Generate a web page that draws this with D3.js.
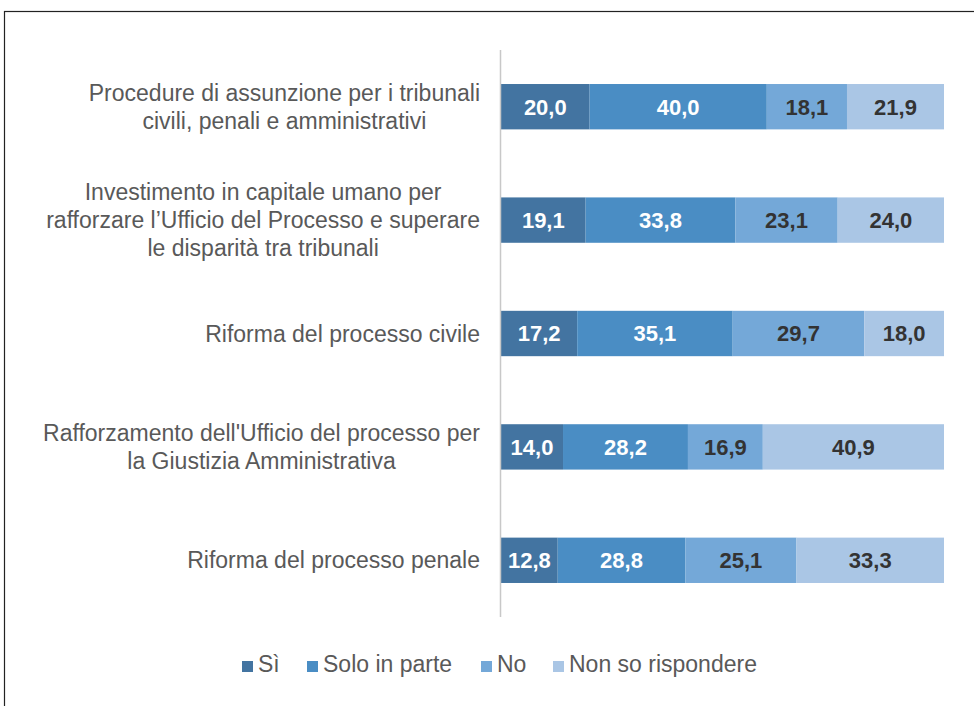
<!DOCTYPE html>
<html><head><meta charset="utf-8">
<script src="https://cdn.jsdelivr.net/npm/d3@7"></script>
<style>body{margin:0;background:#fff}svg{display:block}</style>
</head><body>
<svg id="c" width="974" height="706"></svg>
<script>
const categories = [
  ["Procedure di assunzione per i tribunali", "civili, penali e amministrativi"],
  ["Investimento in capitale umano per", "rafforzare l’Ufficio del Processo e superare", "le disparità tra tribunali"],
  ["Riforma del processo civile"],
  ["Rafforzamento dell'Ufficio del processo per", "la Giustizia Amministrativa"],
  ["Riforma del processo penale"]
];
const seriesNames = ["Sì", "Solo in parte", "No", "Non so rispondere"];
const si = [20.0, 19.1, 17.2, 14.0, 12.8];
const soloInParte = [40.0, 33.8, 35.1, 28.2, 28.8];
const no = [18.1, 23.1, 29.7, 16.9, 25.1];
const nonSo = [21.9, 24.0, 18.0, 40.9, 33.3];
const colors = ["#4374a1", "#4a8dc4", "#74a8d8", "#aac6e5"];
const labelColors = ["#fff", "#fff", "#333", "#333"];
const FONT = "'Liberation Sans', Arial, sans-serif";

const series = [si, soloInParte, no, nonSo];
const svg = d3.select("#c");
svg.append("rect").attr("x", 4.5).attr("y", 11.5).attr("width", 1000).attr("height", 1000)
  .attr("fill", "none").attr("stroke", "#222").attr("stroke-width", 1.2);

const x = d3.scaleLinear().domain([0, 100]).range([501, 944]);
const y = d3.scaleBand().domain(d3.range(categories.length)).range([50, 617]).paddingInner(0.6).paddingOuter(0.3);

const stacked = categories.map((c, i) => {
  let acc = 0;
  return series.map((s, k) => { const d = {i, k, x0: acc, x1: acc + s[i], v: s[i]}; acc += s[i]; return d; });
});

const g = svg.append("g");
stacked.forEach(row => {
  row.forEach(d => {
    g.append("rect").attr("x", x(d.x0)).attr("y", y(d.i)).attr("width", x(d.x1) - x(d.x0))
      .attr("height", y.bandwidth()).attr("fill", colors[d.k]);
    g.append("text").attr("x", (x(d.x0) + x(d.x1)) / 2).attr("y", y(d.i) + y.bandwidth() / 2)
      .attr("dy", "0.36em").attr("text-anchor", "middle")
      .attr("font-family", FONT).attr("font-weight", "bold")
      .attr("font-size", 22).attr("fill", labelColors[d.k])
      .text(d.v.toFixed(1).replace(".", ","));
  });
});

// axis line
svg.append("line").attr("x1", 500.5).attr("x2", 500.5).attr("y1", 50).attr("y2", 617)
  .attr("stroke", "#c8c8c8").attr("stroke-width", 1.5);

// category labels: block right-aligned at 480, lines centered within block
categories.forEach((lines, i) => {
  const cy = y(i) + y.bandwidth() / 2;
  const lh = 28;
  const t = svg.append("text").attr("text-anchor", "middle")
    .attr("font-family", FONT).attr("font-size", 23).attr("fill", "#595959");
  const spans = lines.map((l, j) =>
    t.append("tspan").attr("y", cy + (j - (lines.length - 1) / 2) * lh).attr("dy", "0.35em").text(l));
  const maxW = d3.max(spans, s => s.node().getComputedTextLength());
  spans.forEach(s => s.attr("x", 480 - maxW / 2));
});

// legend
const legX = [242, 307, 481, 553];
const legY = 664;
seriesNames.forEach((n, k) => {
  svg.append("rect").attr("x", legX[k]).attr("y", legY - 3).attr("width", 11).attr("height", 11).attr("fill", colors[k]);
  svg.append("text").attr("x", legX[k] + 16).attr("y", legY).attr("dy", "0.35em")
    .attr("font-family", FONT).attr("font-size", 23).attr("fill", "#595959").text(n);
});
</script>
</body></html>
